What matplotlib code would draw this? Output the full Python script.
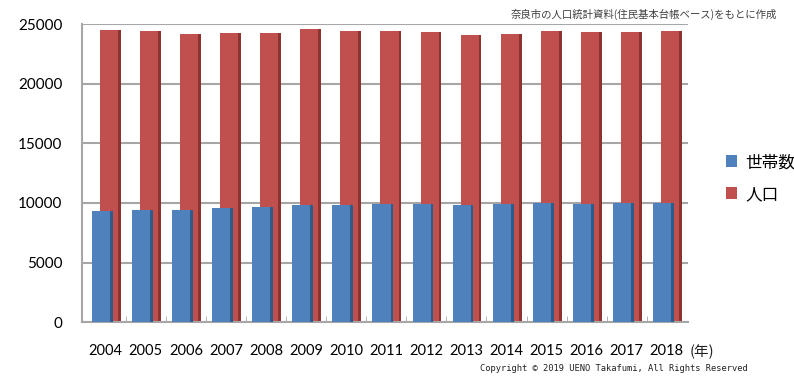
import matplotlib
matplotlib.use("Agg")
import matplotlib.pyplot as plt
import numpy as np

years = ["2004", "2005", "2006", "2007", "2008", "2009", "2010", "2011",
         "2012", "2013", "2014", "2015", "2016", "2017", "2018"]
households = [9340, 9430, 9430, 9540, 9660, 9850, 9820, 9890,
              9940, 9810, 9890, 10000, 9950, 9960, 10000]
population = [24500, 24420, 24200, 24250, 24300, 24580, 24470, 24420,
              24330, 24110, 24170, 24470, 24330, 24330, 24470]
yticks = [0, 5000, 10000, 15000, 20000, 25000]
series_names = ["世帯数", "人口"]

BLUE = "#4F81BD"
BLUE_SIDE = "#2F5A8C"
RED = "#C0504D"
RED_SIDE = "#8C3331"
GRID = "#A6A6A6"
CJK = ["Noto Sans CJK JP", "DejaVu Sans"]

fig = plt.figure(figsize=(7.94, 3.84), dpi=100)
ax = fig.add_axes([0.103, 0.161, 0.763, 0.776])

x = np.arange(len(years))
w = 0.45
side = 0.07

# back series (population)
ax.bar(x + 0.08, population, width=w, color=RED, zorder=2, align="center")
ax.bar(x + 0.08 + w / 2 + side / 2, population, width=side, color=RED_SIDE, zorder=2)
# front series (households)
ax.bar(x - 0.12, households, width=w, color=BLUE, zorder=3)
ax.bar(x - 0.12 + w / 2 + side / 2, households, width=side, color=BLUE_SIDE, zorder=3)

ax.set_ylim(0, 25000)
ax.set_xlim(-0.6, 14.52)
ax.set_yticks(yticks)
ax.set_yticklabels([str(v) for v in yticks], fontsize=11, family="Lato")
ax.set_xticks(x)
ax.set_xticklabels(years, fontsize=10.5, family="Lato")
ax.tick_params(axis="x", length=0, pad=16)
ax.tick_params(axis="y", length=0, pad=14)
ax.set_xticks(x[:-1] + 0.5, minor=True)
ax.tick_params(axis="x", which="minor", direction="in", length=4, color=GRID)

ax.yaxis.grid(True, color=GRID, linewidth=1.5, zorder=0)
ax.set_axisbelow(True)
for s in ["top", "right"]:
    ax.spines[s].set_visible(False)
for s in ["left", "bottom"]:
    ax.spines[s].set_color(GRID)
    ax.spines[s].set_linewidth(1.5)

# legend
from matplotlib.patches import Patch
handles = [Patch(facecolor=BLUE), Patch(facecolor=RED)]
leg = fig.legend(handles, series_names, loc="center left",
                 bbox_to_anchor=(0.895, 0.535), frameon=False,
                 prop={"family": CJK, "size": 12}, handlelength=0.7,
                 handleheight=0.7, handletextpad=0.5, labelspacing=0.9)

fig.text(0.979, 0.962, "奈良市の人口統計資料(住民基本台帳ベース)をもとに作成",
         ha="right", va="center", fontsize=7.5, color="#404040", family=CJK)
fig.text(0.868, 0.083, "(年)", ha="left", va="center", fontsize=10.5,
         family=CJK, color="#202020")
fig.text(0.942, 0.04, "Copyright © 2019 UENO Takafumi, All Rights Reserved",
         ha="right", va="center", fontsize=6.3, family=["DejaVu Sans Mono"],
         color="#202020")

fig.savefig("out.png", dpi=100)
